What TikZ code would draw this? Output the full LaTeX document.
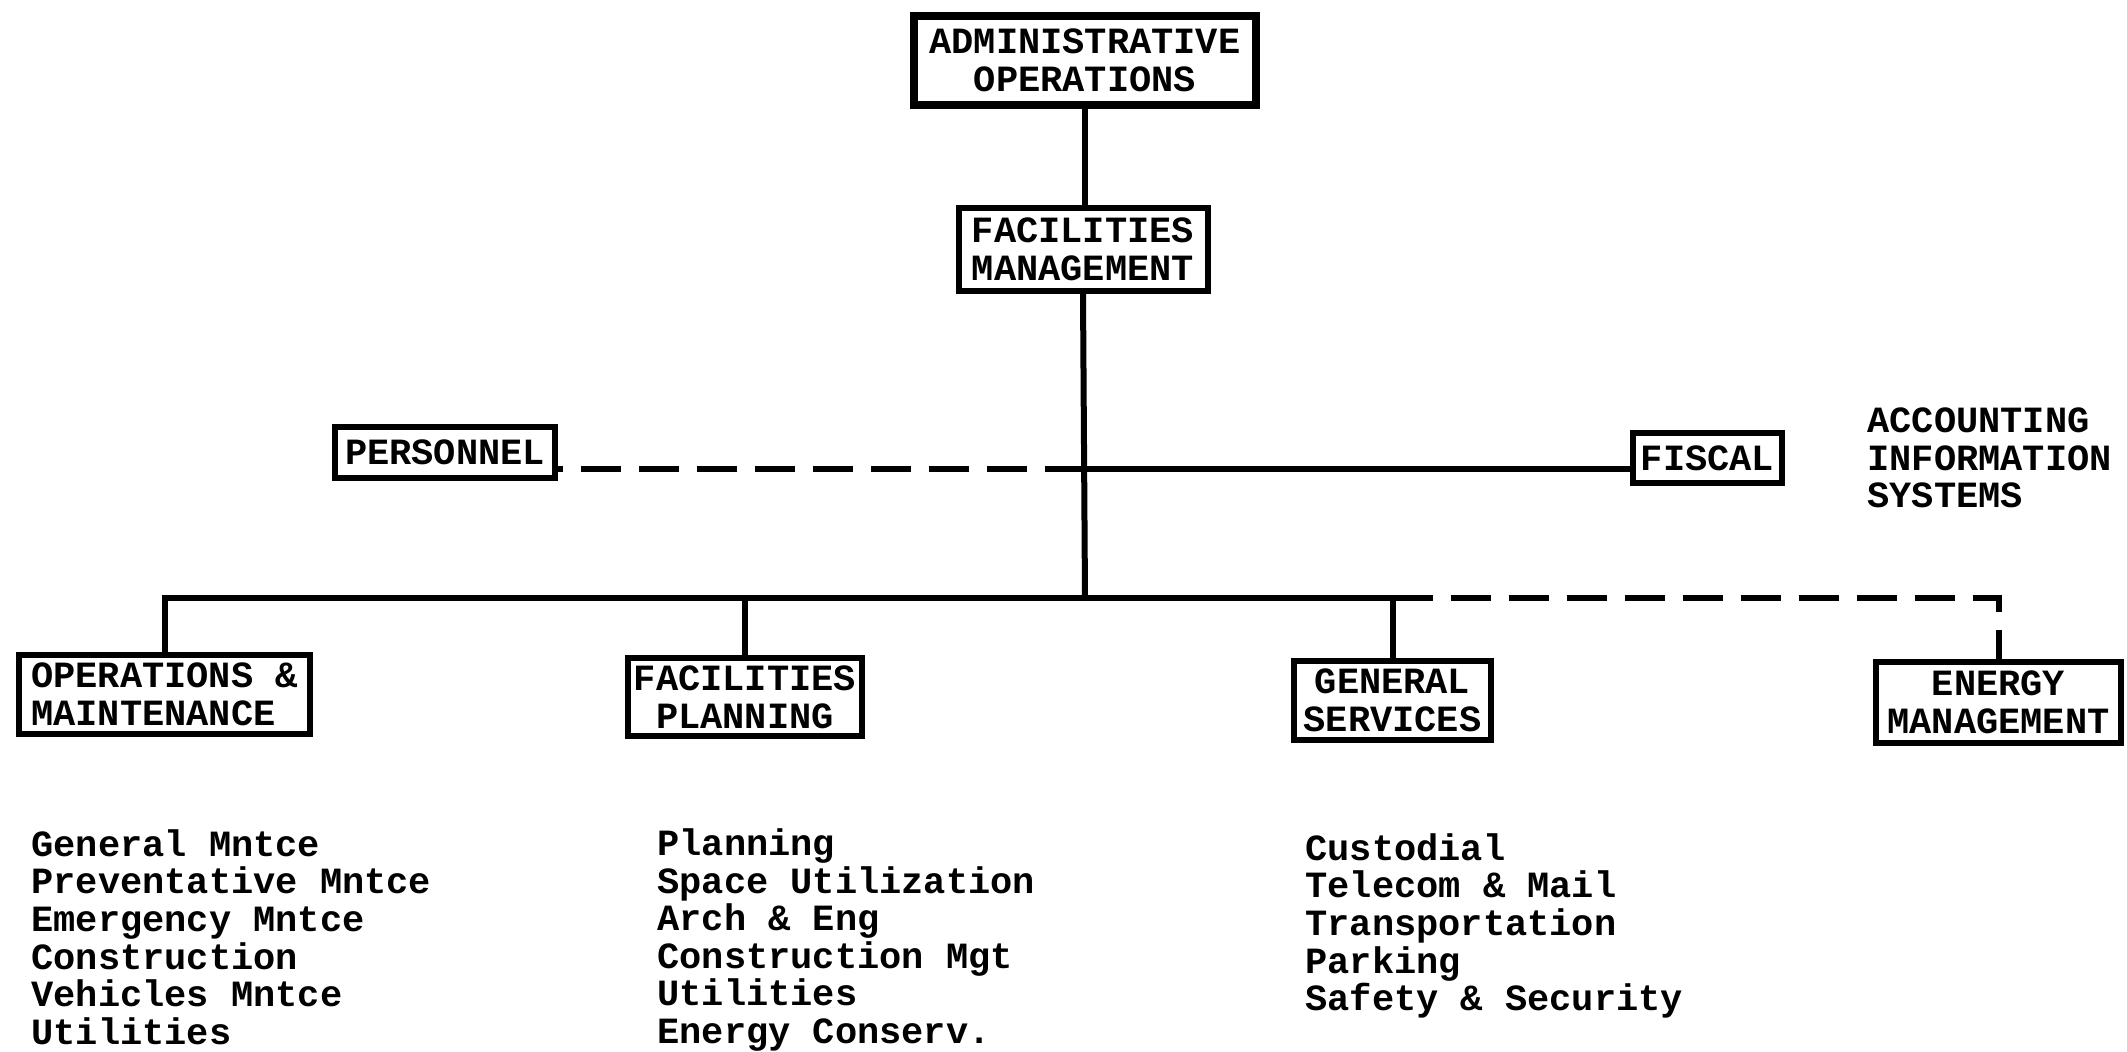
\documentclass[tikz,border=0pt]{standalone}
\usepackage{fontspec}
\usepackage{xcolor}
\usepackage{tikz}
\usetikzlibrary{positioning}
\setmonofont{Liberation Mono}
\newcommand{\chartfont}{\ttfamily\bfseries\fontsize{18.5}{18.8}\selectfont}

\begin{document}
\begin{tikzpicture}[
    x=0.5pt, y=-0.5pt,
    unit/.style={rectangle, draw, line width=3pt, font=\chartfont, align=center, inner sep=0pt},
    link/.style={line width=3pt},
    staffline/.style={link, dash pattern=on 20pt off 9pt},
    duties/.style={font=\chartfont, align=left, anchor=west, inner sep=0pt}
]
\useasboundingbox (0,0) rectangle (2127,1051);

% Top of the chart
\node[unit, line width=4pt, minimum width=171pt, minimum height=44.5pt] (admin) at (1085,60.5) {ADMINISTRATIVE\\OPERATIONS};
\node[unit, minimum width=124.5pt, minimum height=41.5pt] (fm) at (1083,249.5) {FACILITIES\\MANAGEMENT};

% Staff units
\node[unit, minimum width=110pt, minimum height=25.5pt] (personnel) at (445,452.5) {PERSONNEL};
\node[unit, minimum width=74.5pt, minimum height=25pt] (fiscal) at (1707.5,458) {FISCAL};
\node[duties] (ais) at (1867,458) {ACCOUNTING\\INFORMATION\\SYSTEMS};

% Line units
\node[unit, align=left, minimum width=145.5pt, minimum height=39.5pt] (opm) at (164.5,694.5) {OPERATIONS \&\\MAINTENANCE};
\node[unit, minimum width=117pt, minimum height=39pt] (fp) at (745,697) {FACILITIES\\PLANNING};
\node[unit, minimum width=98.5pt, minimum height=39.5pt] (gs) at (1392.5,700.5) {GENERAL\\SERVICES};
\node[unit, minimum width=122.5pt, minimum height=40.5pt] (energy) at (1998.5,702.5) {ENERGY\\MANAGEMENT};

% Duties under each unit
\node[duties] (opmlist) at (31,937) {General Mntce\\Preventative Mntce\\Emergency Mntce\\Construction\\Vehicles Mntce\\Utilities};
\node[duties] (fplist) at (657,940) {Planning\\Space Utilization\\Arch \& Eng\\Construction Mgt\\Utilities\\Energy Conserv.};
\node[duties] (gslist) at (1305,926) {Custodial\\Telecom \& Mail\\Transportation\\Parking\\Safety \& Security};

% Connections
\coordinate (hub) at (1085,469);
\coordinate (bus) at (1085,598);

\draw[link] (admin.south) -- (admin.south |- fm.north);
\draw[link] (fm.south) -- (bus);
\draw[link] (hub) -- (hub -| fiscal.west);
\draw[staffline] (hub) -- (hub -| personnel.east);

\draw[link] (opm.north) |- (gs.north |- bus) -- (gs.north);
\draw[link] (fp.north) -- (fp.north |- bus);
\draw[staffline] (gs.north |- bus) -| (energy.north);

\end{tikzpicture}
\end{document}
